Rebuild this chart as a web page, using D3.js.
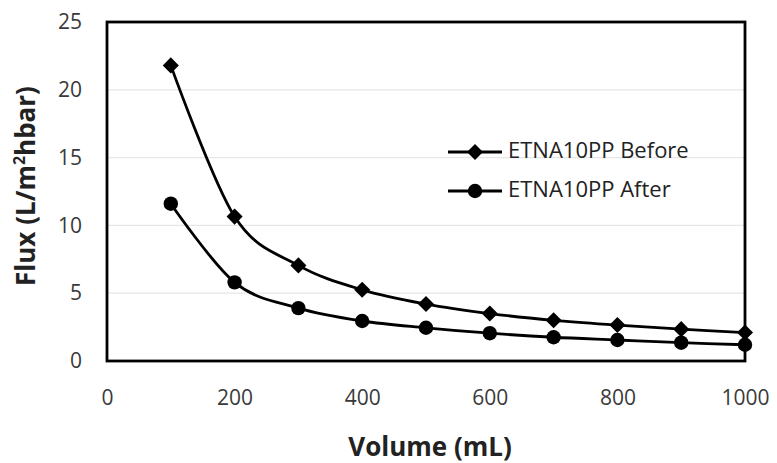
<!DOCTYPE html>
<html><head><meta charset="utf-8">
<script src="https://cdn.jsdelivr.net/npm/d3@7"></script>
<style>body{margin:0;background:#fff}svg{display:block}</style>
</head><body>
<svg id="c" width="777" height="463"></svg>
<script>
const volumes = [100,200,300,400,500,600,700,800,900,1000];
const before = [21.8,10.65,7.05,5.25,4.2,3.5,3.0,2.65,2.35,2.1];
const after = [11.6,5.8,3.9,2.95,2.45,2.05,1.75,1.55,1.35,1.2];
const seriesNames = ["ETNA10PP Before","ETNA10PP After"];
const xTicks = [0,200,400,600,800,1000];
const yTicks = [0,5,10,15,20,25];

const svg = d3.select("#c");
const L=107,R=745,T=22,B=361;
const x = d3.scaleLinear().domain([0,1000]).range([L,R]);
const y = d3.scaleLinear().domain([0,25]).range([B,T]);
const font = "Open Sans, Liberation Sans, sans-serif";

// gridlines
svg.append("g").selectAll("line").data(yTicks.filter(d=>d>0&&d<25)).join("line")
  .attr("x1",L).attr("x2",R).attr("y1",d=>y(d)).attr("y2",d=>y(d))
  .attr("stroke","#e6e6e6").attr("stroke-width",1.2);

// axes
const xa = svg.append("g").attr("transform",`translate(0,${B})`)
  .call(d3.axisBottom(x).tickValues(xTicks).tickFormat(d3.format("d")).tickSize(0).tickPadding(29));
const ya = svg.append("g").attr("transform",`translate(${L},0)`)
  .call(d3.axisLeft(y).tickValues(yTicks).tickFormat(d3.format("d")).tickSize(0).tickPadding(25));
[xa,ya].forEach(a=>{a.select(".domain").remove();
  a.selectAll("text").attr("font-family",font).attr("font-size",21).attr("fill","#3a3a3a");});

// frame
svg.append("rect").attr("x",L).attr("y",T).attr("width",R-L).attr("height",B-T)
  .attr("fill","none").attr("stroke","#000").attr("stroke-width",2.8);

const line = d3.line().x((d,i)=>x(volumes[i])).y(d=>y(d)).curve(d3.curveCatmullRom.alpha(0));
[before,after].forEach(s=>{
  svg.append("path").attr("d",line(s)).attr("fill","none").attr("stroke","#000").attr("stroke-width",2.8);
});
const diamond = d3.symbol().type(d3.symbolDiamond2).size(165);
svg.append("g").selectAll("path").data(before).join("path")
  .attr("d",diamond).attr("transform",(d,i)=>`translate(${x(volumes[i])},${y(d)})`).attr("fill","#000");
svg.append("g").selectAll("circle").data(after).join("circle")
  .attr("cx",(d,i)=>x(volumes[i])).attr("cy",d=>y(d)).attr("r",7.2).attr("fill","#000");

// legend
const lg = svg.append("g");
[152,191].forEach((ly,k)=>{
  lg.append("line").attr("x1",448).attr("x2",502).attr("y1",ly).attr("y2",ly).attr("stroke","#000").attr("stroke-width",2.8);
  if(k===0) lg.append("path").attr("d",diamond).attr("transform",`translate(475,${ly})`);
  else lg.append("circle").attr("cx",475).attr("cy",ly).attr("r",7.2);
  lg.append("text").attr("x",508).attr("y",ly+6).attr("font-family",font).attr("font-size",22).attr("fill","#222").text(seriesNames[k]);
});

// titles
svg.append("text").attr("x",(L+R)/2+4).attr("y",456).attr("text-anchor","middle")
  .attr("font-family",font).attr("font-weight","bold").attr("font-size",26).attr("fill","#222").text("Volume (mL)");
const yt = svg.append("text").attr("transform","translate(35,186) rotate(-90)").attr("text-anchor","middle")
  .attr("font-family",font).attr("font-weight","bold").attr("font-size",26).attr("fill","#222");
yt.append("tspan").text("Flux (L/m");
yt.append("tspan").attr("dy",-10).attr("font-size",16).text("2");
yt.append("tspan").attr("dy",10).text("hbar)");
</script>
</body></html>
